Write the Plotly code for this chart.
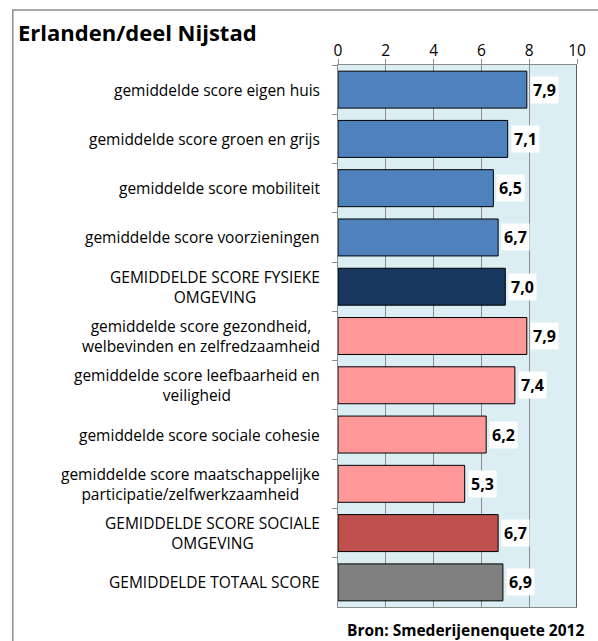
import plotly.graph_objects as go

categories = [
    "gemiddelde score eigen huis",
    "gemiddelde score groen en grijs",
    "gemiddelde score mobiliteit",
    "gemiddelde score voorzieningen",
    "GEMIDDELDE SCORE FYSIEKE<br>OMGEVING",
    "gemiddelde score gezondheid,<br>welbevinden en zelfredzaamheid",
    "gemiddelde score leefbaarheid en<br>veiligheid",
    "gemiddelde score sociale cohesie",
    "gemiddelde score maatschappelijke<br>participatie/zelfwerkzaamheid",
    "GEMIDDELDE SCORE SOCIALE<br>OMGEVING",
    "GEMIDDELDE TOTAAL SCORE",
]
values = [7.9, 7.1, 6.5, 6.7, 7.0, 7.9, 7.4, 6.2, 5.3, 6.7, 6.9]
bar_colors = ["#4F81BD", "#4F81BD", "#4F81BD", "#4F81BD", "#17375E",
              "#FF9999", "#FF9999", "#FF9999", "#FF9999", "#C0504D", "#808080"]
x_ticks = [0, 2, 4, 6, 8, 10]
title_text = "Erlanden/deel Nijstad"
source_text = "Bron: Smederijenenquete 2012"

FONT = "'Open Sans', sans-serif"
W, H = 598, 641
L, R, T, B = 338, 16, 65, 34
pw, ph = W - L - R, H - T - B

def px_to_paper_x(px):
    return (px - L) / pw

def px_to_paper_y(py):
    return (H - B - py) / ph

fig = go.Figure()
fig.add_trace(go.Bar(
    y=categories, x=values, orientation="h",
    marker=dict(color=bar_colors, line=dict(color="#000000", width=1)),
    hoverinfo="skip",
))

annotations = []
for c, v in zip(categories, values):
    annotations.append(dict(
        x=v, y=c, xref="x", yref="y", text="<b>" + f"{v:.1f}".replace(".", ",") + "</b>",
        showarrow=False, xanchor="left", xshift=3, bgcolor="#FFFFFF", borderpad=2,
        font=dict(family=FONT, size=16, color="#000000"),
    ))
    annotations.append(dict(
        x=px_to_paper_x(322), y=c, xref="paper", yref="y", text=c,
        showarrow=False, xanchor="right", align="center",
        font=dict(family=FONT, size=15.5, color="#000000"),
    ))
annotations.append(dict(
    x=px_to_paper_x(9), y=px_to_paper_y(32), xref="paper", yref="paper",
    text="<b>" + title_text + "</b>", showarrow=False, xanchor="left", yanchor="middle",
    font=dict(family=FONT, size=22, color="#000000"),
))
annotations.append(dict(
    x=px_to_paper_x(591), y=px_to_paper_y(630), xref="paper", yref="paper",
    text="<b>" + source_text + "</b>", showarrow=False, xanchor="right", yanchor="middle",
    font=dict(family=FONT, size=15.5, color="#000000"),
))

shapes = [
    dict(type="rect", xref="paper", yref="paper",
         x0=px_to_paper_x(6), x1=px_to_paper_x(620), y0=px_to_paper_y(10), y1=px_to_paper_y(660),
         line=dict(color="#8C8C8C", width=1.5), fillcolor="rgba(0,0,0,0)", layer="below"),
    dict(type="line", xref="x", yref="paper", x0=10, x1=10, y0=0, y1=1,
         line=dict(color="#000000", width=1.2)),
]

fig.update_layout(
    width=W, height=H,
    margin=dict(l=L, r=R, t=T, b=B),
    paper_bgcolor="#FFFFFF",
    plot_bgcolor="#DAEEF3",
    bargap=0.25,
    showlegend=False,
    font=dict(family=FONT, color="#000000"),
    annotations=annotations,
    shapes=shapes,
    xaxis=dict(
        side="top", range=[0, 10], tickvals=x_ticks, ticktext=[str(t) for t in x_ticks],
        showgrid=True, gridcolor="#8C8C8C", gridwidth=1,
        showline=True, linecolor="#8C8C8C", linewidth=1, mirror=True,
        ticks="outside", ticklen=5, tickcolor="#8C8C8C", ticklabelstandoff=-3,
        tickfont=dict(family=FONT, size=15.5, color="#000000"),
        zeroline=False, fixedrange=True,
    ),
    yaxis=dict(
        autorange="reversed", type="category", showticklabels=False,
        ticks="outside", ticklen=5, tickcolor="#8C8C8C", tickson="boundaries",
        showline=True, linecolor="#8C8C8C", linewidth=1,
        showgrid=False, fixedrange=True,
    ),
)

fig.write_html("out.html", config={"displayModeBar": False},
               post_script="document.body.style.margin='0px';document.body.style.overflow='hidden';")
